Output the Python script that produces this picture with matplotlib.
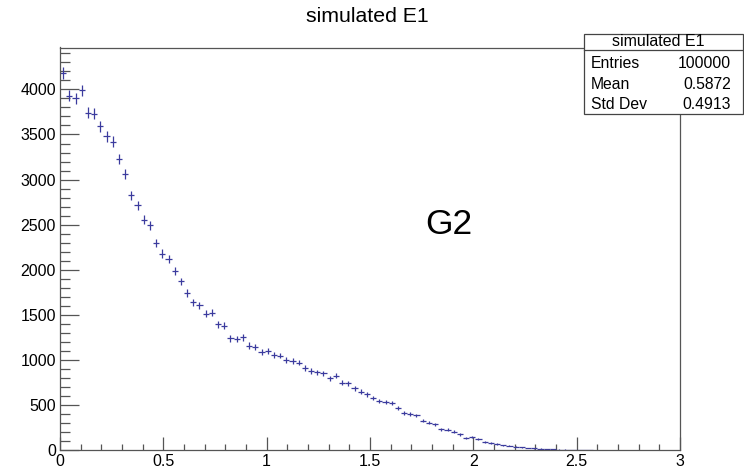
"""ROOT style histogram: simulated E1"""
import numpy as np
import matplotlib.pyplot as plt
from matplotlib.patches import Rectangle
from matplotlib.lines import Line2D
from matplotlib.ticker import MultipleLocator

plt.rcParams['font.family'] = ['Liberation Sans', 'DejaVu Sans']

# histogram: 100 bins on [0, 3], only the filled part is listed
nbins = 100
xlo, xhi = 0.0, 3.0
counts = [4180, 3930, 3900, 3990, 3740, 3730, 3590, 3480, 3420, 3230,
          3063, 2825, 2714, 2555, 2492, 2296, 2178, 2122, 1981, 1870,
          1741, 1637, 1603, 1511, 1525, 1396, 1378, 1237, 1233, 1248,
          1159, 1141, 1089, 1103, 1052, 1048, 1000, 989, 970, 910,
          877, 863, 852, 796, 826, 748, 741, 685, 648, 618,
          574, 544, 530, 519, 463, 408, 400, 385, 326, 304,
          285, 230, 226, 204, 174, 130, 148, 126, 89, 81,
          67, 52, 48, 37, 30, 22, 18, 14, 10, 8,
          5, 4, 2, 2, 1, 1]
title = "simulated E1"
stats_rows = [("Entries", "100000"), ("Mean", "0.5872"), ("Std Dev", "0.4913")]
label = "G2"

W, H = 744, 468
def fx(px): return px / W
def fy(py): return (H - py) / H

fig = plt.figure(figsize=(7.44, 4.68), dpi=100)
ax = fig.add_axes([fx(60), fy(450), fx(680) - fx(60), fy(47.5) - fy(450)])

width = (xhi - xlo) / nbins
y = np.array(counts, dtype=float)
x = xlo + width * (np.arange(len(y)) + 0.5)
ax.errorbar(x, y, xerr=width / 2, yerr=np.sqrt(y), fmt='none',
            ecolor='#3b3b9e', elinewidth=0.9, capsize=0)

ax.set_xlim(0, 3)
ax.set_ylim(0, 4465)
ax.xaxis.set_major_locator(MultipleLocator(0.5))
ax.xaxis.set_minor_locator(MultipleLocator(0.1))
ax.yaxis.set_major_locator(MultipleLocator(500))
ax.yaxis.set_minor_locator(MultipleLocator(100))
ax.set_xticks([0, 0.5, 1, 1.5, 2, 2.5, 3])
ax.set_xticklabels(["0", "0.5", "1", "1.5", "2", "2.5", "3"])
ax.tick_params(axis='both', which='both', direction='in', color='#555555',
               labelsize=11.5, top=False, right=False)
ax.tick_params(axis='x', which='major', length=9.5, width=0.9, pad=3)
ax.tick_params(axis='x', which='minor', length=4.5, width=0.9)
ax.tick_params(axis='y', which='major', length=13.5, width=0.9, pad=3)
ax.tick_params(axis='y', which='minor', length=7, width=0.9)
for s in ax.spines.values():
    s.set_color('#555555')
    s.set_linewidth(0.9)

fig.text(fx(367.5), fy(17), title, ha='center', va='center', fontsize=15.3)
fig.text(fx(448.5), fy(225), label, ha='center', va='center', fontsize=25.5)

# stats box
bx0, by0, bx1, by1 = 584, 34, 743, 114
fig.patches.append(Rectangle((fx(bx0), fy(by1)), fx(bx1) - fx(bx0), fy(by0) - fy(by1),
                             transform=fig.transFigure, facecolor='white',
                             edgecolor='#444444', linewidth=0.9, zorder=5))
fig.lines.append(Line2D([fx(bx0), fx(bx1)], [fy(50), fy(50)],
                        transform=fig.transFigure, color='#444444', linewidth=0.9, zorder=6))
fig.text(fx(658), fy(42), title, ha='center', va='center', fontsize=11.5, zorder=7)
for i, (k, v) in enumerate(stats_rows):
    yy = 64 + i * 20.2
    fig.text(fx(591), fy(yy), k, ha='left', va='center', fontsize=11.3, zorder=7)
    fig.text(fx(731), fy(yy), v, ha='right', va='center', fontsize=11.3, zorder=7)

fig.savefig('out.png', dpi=100)
